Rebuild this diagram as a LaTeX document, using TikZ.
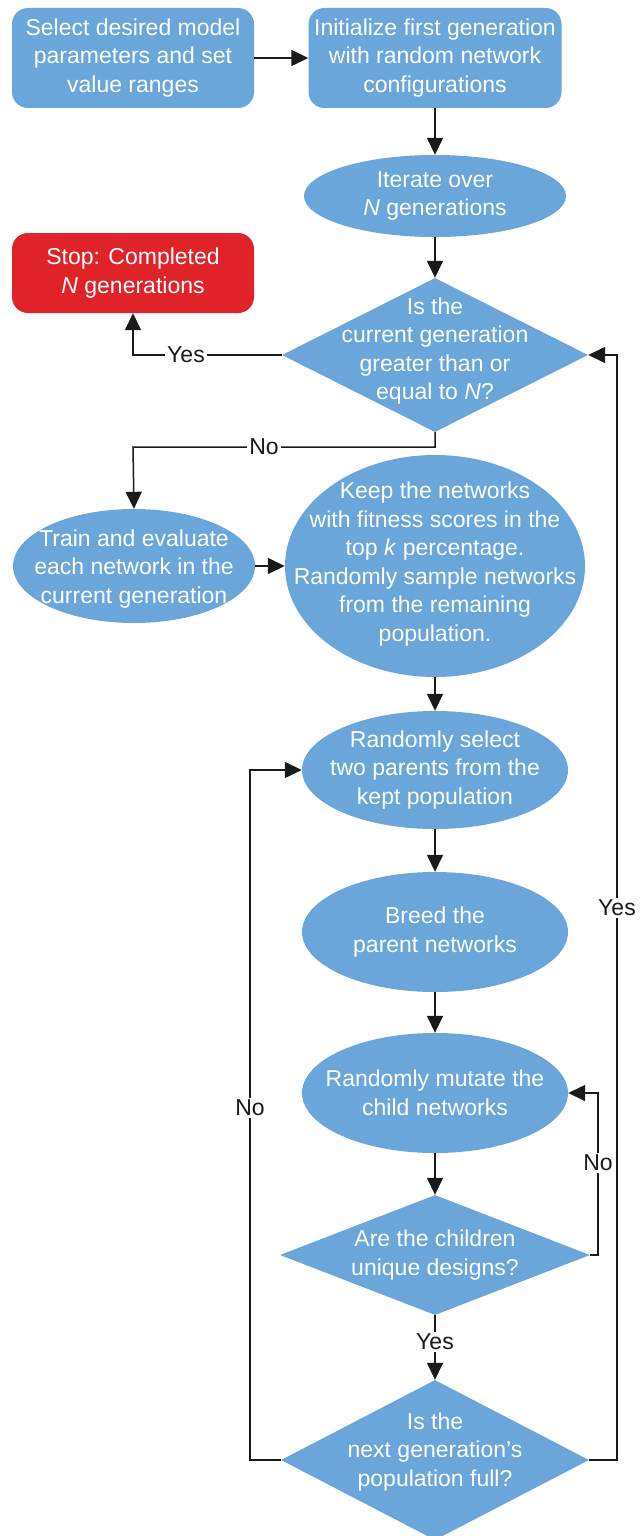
\documentclass[tikz,border=0pt]{standalone}
\usepackage{fontspec}
\setmainfont{Liberation Sans}
\usetikzlibrary{shapes.geometric,arrows.meta}
\definecolor{fblue}{RGB}{106,166,218}
\definecolor{fred}{RGB}{224,35,40}
\definecolor{fline}{RGB}{26,26,26}
\begin{document}
\begin{tikzpicture}[x=1pt,y=-1pt,
  shp/.style={fill=fblue,draw=none,inner sep=0pt},
  rbox/.style={shp,rectangle,rounded corners=16pt},
  ell/.style={shp,ellipse},
  dia/.style={shp,diamond},
  txt/.style={text=white,align=center,inner sep=0pt,font=\fontsize{23}{28.5}\selectfont},
  lbl/.style={fill=white,text=fline,inner sep=2pt,font=\fontsize{23}{28}\selectfont},
  conn/.style={draw=fline,line width=1.5pt},
  arr/.style={conn,-{Triangle[length=17pt,width=16pt]}}]
\useasboundingbox[fill=white] (0,0) rectangle (644,1536);
% shapes
\node[rbox,minimum width=242pt,minimum height=100pt] (b1) at (133,58) {};
\node[rbox,minimum width=253pt,minimum height=100pt] (b2) at (435,58) {};
\node[ell,minimum width=262pt,minimum height=82pt] (it) at (435,196) {};
\node[rbox,fill=fred,minimum width=242pt,minimum height=80pt] (stop) at (133,273) {};
\node[dia,minimum width=306pt,minimum height=154pt] (d1) at (435,355) {};
\node[ell,minimum width=242pt,minimum height=114pt] (train) at (134,566) {};
\node[ell,minimum width=300pt,minimum height=222pt] (keep) at (435,566) {};
\node[ell,minimum width=266pt,minimum height=118pt] (sel) at (435,770) {};
\node[ell,minimum width=266pt,minimum height=120pt] (breed) at (435,932) {};
\node[ell,minimum width=266pt,minimum height=120pt] (mut) at (435,1093) {};
\node[dia,minimum width=310pt,minimum height=120pt] (d2) at (435,1255) {};
\node[dia,minimum width=308pt,minimum height=160pt] (d3) at (435,1460) {};
% texts
\node[txt] (b1t) at (b1) {Select desired model\\parameters and set\\value ranges};
\node[txt] (b2t) at (b2) {Initialize first generation\\with random network\\configurations};
\node[txt] (itt) at (it) {Iterate over\\\textit{N} generations};
\node[txt] (stopt) at (stop) {Stop: Completed\\\textit{N} generations};
\node[txt] (d1t) at ([yshift=4pt]d1.center) {Is the\\current generation\\greater than or\\equal to \textit{N}?};
\node[txt] (traint) at ([yshift=-3pt]train.center) {Train and evaluate\\each network in the\\current generation};
\node[txt] (keept) at ([yshift=2pt]keep.center) {Keep the networks\\with fitness scores in the\\top \textit{k} percentage.\\Randomly sample networks\\from the remaining\\population.};
\node[txt] (selt) at (sel) {Randomly select\\two parents from the\\kept population};
\node[txt] (breedt) at (breed) {Breed the\\parent networks};
\node[txt] (mutt) at (mut) {Randomly mutate the\\child networks};
\node[txt] (d2t) at (d2) {Are the children\\unique designs?};
\node[txt] (d3t) at ([yshift=8pt]d3.center) {Is the\\next generation’s\\population full?};
% coordinates
\coordinate (yesL) at (133,355);
\coordinate (noA) at (435,447);
\coordinate (noB) at (133,447);
\coordinate (nR1) at (598,1255);
\coordinate (nR2) at (598,1093);
\coordinate (nL1) at (250,1460);
\coordinate (nL2) at (250,770);
\coordinate (yR1) at (617,1460);
\coordinate (yR2) at (617,355);
% connectors
\draw[arr] (b1.east) -- (b2.west);
\draw[arr] (b2.south) -- (it.north);
\draw[arr] (it.south) -- (d1.north);
\draw[arr] (d1.west) -- (yesL) -- (stop.south);
\draw[arr] (d1.south) -- (noA) -- (noB) -- (train.north);
\draw[arr] (train.east) -- (keep.west);
\draw[arr] (keep.south) -- (sel.north);
\draw[arr] (sel.south) -- (breed.north);
\draw[arr] (breed.south) -- (mut.north);
\draw[arr] (mut.south) -- (d2.north);
\draw[arr] (d2.south) -- (d3.north);
\draw[arr] (d2.east) -- (nR1) -- (nR2) -- (mut.east);
\draw[arr] (d3.west) -- (nL1) -- (nL2) -- (sel.west);
\draw[arr] (d3.east) -- (yR1) -- (yR2) -- (d1.east);
% labels
\node[lbl] (l1) at (186,355) {Yes};
\node[lbl] (l2) at (264,447) {No};
\node[lbl] (l3) at (435,1342) {Yes};
\node[lbl] (l4) at (598,1163) {No};
\node[lbl] (l5) at (250,1108) {No};
\node[lbl] (l6) at (617,908) {Yes};
\end{tikzpicture}
\end{document}
